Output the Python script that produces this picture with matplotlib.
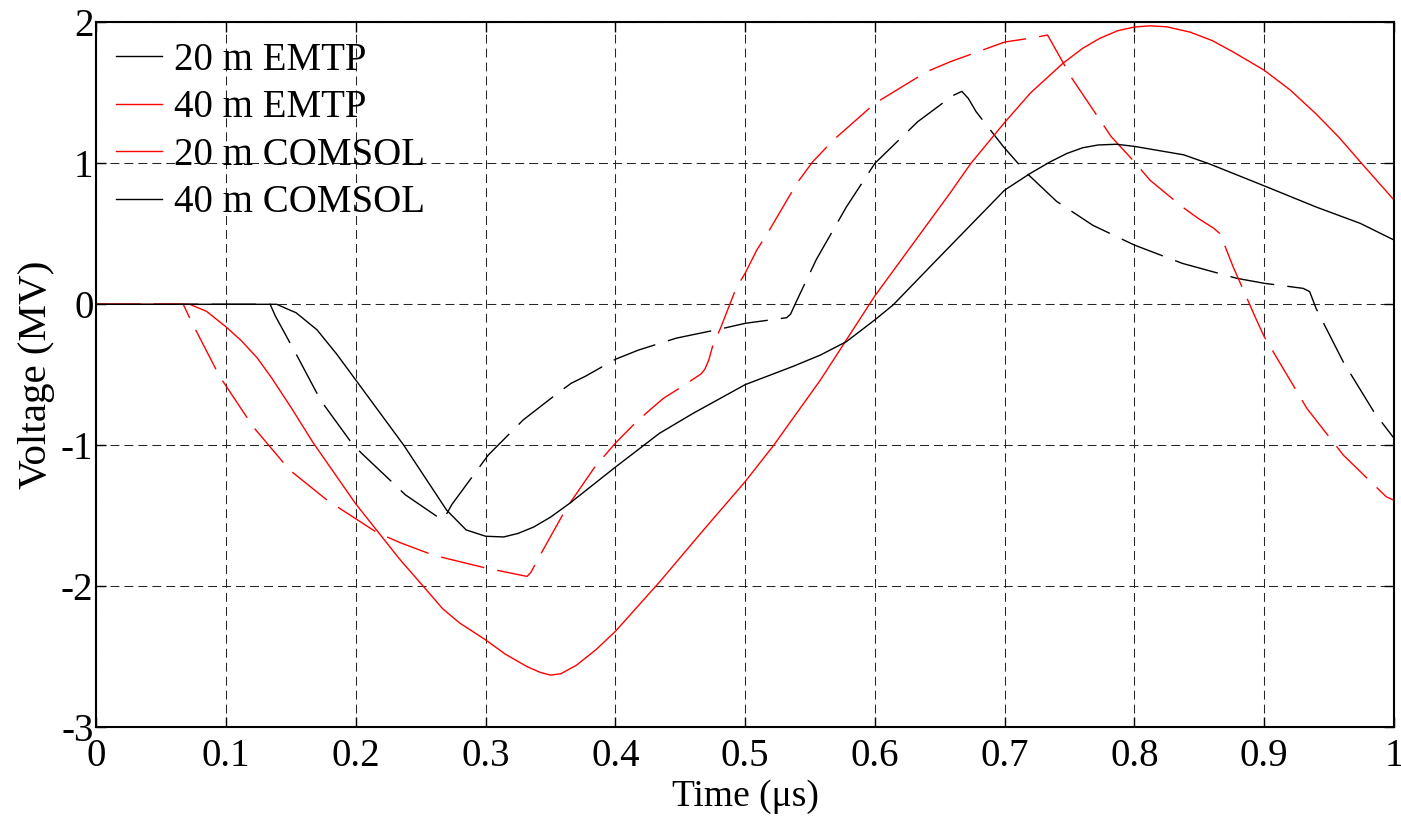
import matplotlib.pyplot as plt
from matplotlib.lines import Line2D

plt.rcParams["font.family"] = ["Liberation Serif", "DejaVu Serif"]

# time (us) / voltage (MV)
bd_t = [0, 0.134, 0.138, 0.155, 0.17, 0.176, 0.197, 0.2045, 0.229, 0.238, 0.265, 0.268,
        0.274, 0.294, 0.302, 0.329, 0.357, 0.366, 0.377, 0.4, 0.418, 0.447, 0.481, 0.5,
        0.532, 0.535, 0.54, 0.555, 0.578, 0.6, 0.633, 0.66, 0.667, 0.672, 0.678, 0.699,
        0.717, 0.74, 0.768, 0.8, 0.837, 0.879, 0.9, 0.93, 0.935, 0.94, 0.961, 0.985, 1.0]
bd_v = [0, 0, -0.083, -0.37, -0.63, -0.72, -0.986, -1.057, -1.27, -1.35, -1.52, -1.52,
        -1.42, -1.17, -1.07, -0.82, -0.62, -0.56, -0.51, -0.39, -0.324, -0.24, -0.175, -0.135,
        -0.095, -0.07, 0.03, 0.32, 0.69, 1.0, 1.295, 1.48, 1.51, 1.46, 1.366, 1.118,
        0.93, 0.73, 0.56, 0.42, 0.29, 0.184, 0.149, 0.113, 0.09, -0.03, -0.41, -0.77, -0.95]

rd_t = [0, 0.067, 0.074, 0.095, 0.121, 0.149, 0.178, 0.216, 0.234, 0.26, 0.3, 0.332,
        0.335, 0.342, 0.359, 0.365, 0.384, 0.4, 0.415, 0.424, 0.437, 0.452, 0.466, 0.469,
        0.472, 0.475, 0.481, 0.493, 0.5, 0.509, 0.517, 0.54, 0.552, 0.568, 0.6, 0.64,
        0.658, 0.7, 0.725, 0.733, 0.752, 0.782, 0.8, 0.812, 0.837, 0.849, 0.861, 0.866,
        0.876, 0.894, 0.9, 0.933, 0.961, 0.994, 1.0]
rd_v = [0, 0, -0.135, -0.51, -0.87, -1.175, -1.39, -1.617, -1.69, -1.78, -1.87, -1.93,
        -1.9, -1.78, -1.5, -1.41, -1.156, -0.985, -0.845, -0.77, -0.667, -0.58, -0.494, -0.46,
        -0.395, -0.296, -0.17, 0.113, 0.22, 0.385, 0.5, 0.86, 1.01, 1.165, 1.425, 1.65,
        1.72, 1.86, 1.895, 1.91, 1.6, 1.19, 1.01, 0.88, 0.69, 0.61, 0.54, 0.5,
        0.267, -0.11, -0.23, -0.74, -1.07, -1.365, -1.39]

rs_t = [0, 0.072, 0.085, 0.1, 0.112, 0.124, 0.135, 0.15, 0.167, 0.2, 0.234, 0.252,
        0.267, 0.28, 0.29, 0.3, 0.315, 0.332, 0.342, 0.35, 0.358, 0.37, 0.385, 0.4,
        0.434, 0.468, 0.5, 0.522, 0.558, 0.568, 0.6, 0.658, 0.674, 0.7, 0.72, 0.745,
        0.76, 0.773, 0.787, 0.8, 0.812, 0.825, 0.843, 0.86, 0.876, 0.9, 0.92, 0.94,
        0.958, 0.975, 1.0]
rs_v = [0, 0, -0.05, -0.16, -0.26, -0.38, -0.52, -0.73, -0.98, -1.416, -1.81, -2.0,
        -2.16, -2.26, -2.32, -2.38, -2.48, -2.57, -2.61, -2.63, -2.62, -2.56, -2.45, -2.32,
        -1.97, -1.6, -1.258, -1.0, -0.537, -0.395, 0.06, 0.79, 1.0, 1.29, 1.5, 1.71,
        1.815, 1.885, 1.94, 1.967, 1.975, 1.968, 1.93, 1.87, 1.79, 1.66, 1.52, 1.35,
        1.18, 1.0, 0.74]

bs_t = [0, 0.139, 0.154, 0.17, 0.185, 0.2, 0.237, 0.27, 0.285, 0.3, 0.314, 0.325,
        0.337, 0.35, 0.365, 0.4, 0.434, 0.46, 0.5, 0.537, 0.558, 0.578, 0.6, 0.614,
        0.645, 0.7, 0.72, 0.735, 0.748, 0.76, 0.772, 0.786, 0.8, 0.838, 0.858, 0.9,
        0.94, 0.974, 1.0]
bs_v = [0, 0, -0.06, -0.18, -0.35, -0.537, -1.0, -1.46, -1.6, -1.645, -1.65, -1.625,
        -1.58, -1.51, -1.41, -1.155, -0.915, -0.773, -0.57, -0.44, -0.36, -0.265, -0.11, -0.005,
        0.29, 0.81, 0.93, 1.01, 1.07, 1.11, 1.13, 1.135, 1.12, 1.06, 0.995, 0.84,
        0.69, 0.574, 0.456]

labels = ["20 m EMTP", "40 m EMTP", "20 m COMSOL", "40 m COMSOL"]
colors = ["k", "r", "r", "k"]

fig = plt.figure(figsize=(14.01, 8.17), dpi=100)
ax = fig.add_axes([0.0687, 0.1098, 0.9263, 0.8629])

dash = (0, (32, 9.5))
ax.plot(bd_t, bd_v, color="k", lw=1.0, linestyle=dash)
ax.plot(rd_t, rd_v, color="r", lw=1.0, linestyle=dash)
ax.plot(rs_t, rs_v, color="r", lw=1.0)
ax.plot(bs_t, bs_v, color="k", lw=1.0)

ax.set_xlim(0, 1)
ax.set_ylim(-3, 2)
ax.set_xticks([0, 0.1, 0.2, 0.3, 0.4, 0.5, 0.6, 0.7, 0.8, 0.9, 1])
ax.set_xticklabels(["0", "0.1", "0.2", "0.3", "0.4", "0.5", "0.6", "0.7", "0.8", "0.9", "1"])
ax.set_yticks([-3, -2, -1, 0, 1, 2])
ax.set_yticklabels(["-3", "-2", "-1", "0", "1", "2"])
ax.grid(True, color="0.15", lw=0.75, linestyle=(0, (8.6, 4.8)))
ax.set_axisbelow(True)
ax.tick_params(direction="in", top=True, right=True, length=7, width=1,
               labelsize=28)
ax.tick_params(axis="x", pad=8)
ax.tick_params(axis="y", pad=2)
for s in ax.spines.values():
    s.set_linewidth(1.5)

ax.set_xlabel("Time (\u03bcs)", fontsize=27, labelpad=3)
ax.set_ylabel("Voltage (MV)", fontsize=29.5, labelpad=4)

handles = [Line2D([], [], color=c, lw=1.0) for c in colors]
ax.legend(handles, labels, loc="upper left", frameon=False, fontsize=28,
          handlelength=1.2, handletextpad=0.3, labelspacing=0.27,
          borderaxespad=0.2, borderpad=0.3)

fig.savefig("out.png", dpi=100)
